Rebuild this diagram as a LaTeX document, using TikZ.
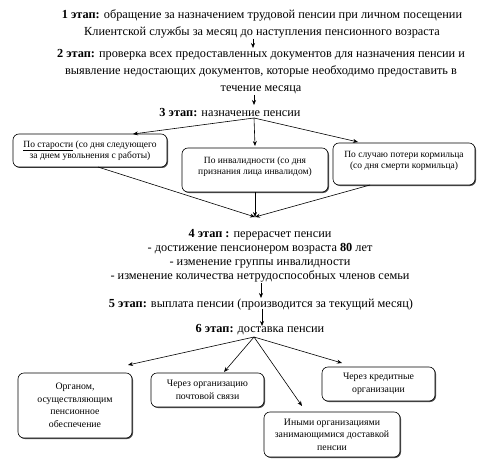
\documentclass[tikz,border=0pt]{standalone}
\usepackage{fontspec}
\setmainfont{Liberation Serif}
\usetikzlibrary{arrows.meta,shadows}
\begin{document}
\begin{tikzpicture}[x=1pt,y=-1pt,
  stage/.style={align=center, inner sep=0pt, font=\fontsize{12.3}{17}\selectfont},
  stagefour/.style={align=center, inner sep=0pt, font=\fontsize{12.3}{14}\selectfont},
  boxA/.style={draw, rounded corners=6pt, align=center, inner sep=0pt, fill=white, line width=0.6pt,
    drop shadow={shadow xshift=1pt, shadow yshift=-1pt, fill=black!70, opacity=1},
    font=\fontsize{9.5}{11.5}\selectfont},
  boxB/.style={boxA, font=\fontsize{9.8}{12.5}\selectfont},
  arr/.style={-{Stealth[length=5pt,width=4pt]}, line width=0.6pt},
  ln/.style={line width=0.6pt}]
\useasboundingbox (0,0) rectangle (484,465);

% stages
\node[stage] (s1) at (262,24) {\textbf{1 этап:} обращение за назначением трудовой пенсии при личном посещении\\Клиентской службы за месяц до наступления пенсионного возраста};
\node[stage] (s2) at (261,72) {\textbf{2 этап:} проверка всех предоставленных документов для назначения пенсии и\\выявление недостающих документов, которые необходимо предоставить в\\течение месяца};
\node[stage] (s3) at (230,113) {\textbf{3 этап:} назначение пенсии};
\node[stagefour] (s4) at (260,256) {\textbf{4 этап :} перерасчет пенсии\\- достижение пенсионером возраста \textbf{80} лет\\- изменение группы инвалидности\\- изменение количества нетрудоспособных членов семьи};
\node[stage] (s5) at (261,305) {\textbf{5 этап:} выплата пенсии (производится за текущий месяц)};
\node[stage] (s6) at (260,330) {\textbf{6 этап:} доставка пенсии};

% boxes of stage 3
\node[boxA, minimum width=154pt, minimum height=33pt] (bA) at (90,150.5) {\underline{По старости} (со дня следующего\\за днем увольнения с работы)};
\node[boxA, minimum width=146pt, minimum height=44pt, text depth=9pt] (bB) at (255,170) {По инвалидности (со дня\\признания лица инвалидом)};
\node[boxA, minimum width=142pt, minimum height=42pt, text depth=8pt] (bC) at (404,164) {По случаю потери кормильца\\(со дня смерти кормильца)};

% boxes of stage 6
\node[boxB, minimum width=114pt, minimum height=65pt] (bD) at (75,405.5) {Органом,\\осуществляющим\\пенсионное\\обеспечение};
\node[boxB, minimum width=113pt, minimum height=34pt] (bE) at (207.5,390) {Через организацию\\почтовой связи};
\node[boxB, minimum width=136pt, minimum height=45pt] (bF) at (332,434.5) {Иными организациями\\занимающимися доставкой\\пенсии};
\node[boxB, minimum width=113pt, minimum height=34pt] (bG) at (378.5,384) {Через кредитные\\организации};

% connector points
\coordinate (p1a) at (253,39);
\coordinate (p1b) at (253,48);
\coordinate (p2a) at (254,95);
\coordinate (p2b) at (254,105);
\coordinate (o3) at (254,118);
\coordinate (eA) at (133,134);
\coordinate (eB) at (255,146);
\coordinate (eC) at (358,142);
\coordinate (fA) at (98,167);
\coordinate (fB) at (255,192);
\coordinate (fC) at (370,185);
\coordinate (m) at (255,217);
\coordinate (p4a) at (261,283);
\coordinate (p4b) at (261,298);
\coordinate (p5a) at (262,309);
\coordinate (p5b) at (262,326);
\coordinate (o6) at (254,337);
\coordinate (eD) at (128,365);
\coordinate (eE) at (224,372);
\coordinate (eF) at (302,406);
\coordinate (eG) at (342,363);

\draw[arr] (p1a) -- (p1b);
\draw[arr] (p2a) -- (p2b);
\draw[arr] (o3) -- (eA);
\draw[arr] (o3) -- (eB);
\draw[arr] (o3) -- (eC);
\draw[arr] (fA) -- (m);
\draw[arr] (fB) -- (m);
\draw[arr] (fC) -- (m);
\draw[arr] (p4a) -- (p4b);
\draw[arr] (p5a) -- (p5b);
\draw[arr] (o6) -- (eD);
\draw[arr] (o6) -- (eE);
\draw[arr] (o6) -- (eF);
\draw[arr] (o6) -- (eG);
\end{tikzpicture}
\end{document}
